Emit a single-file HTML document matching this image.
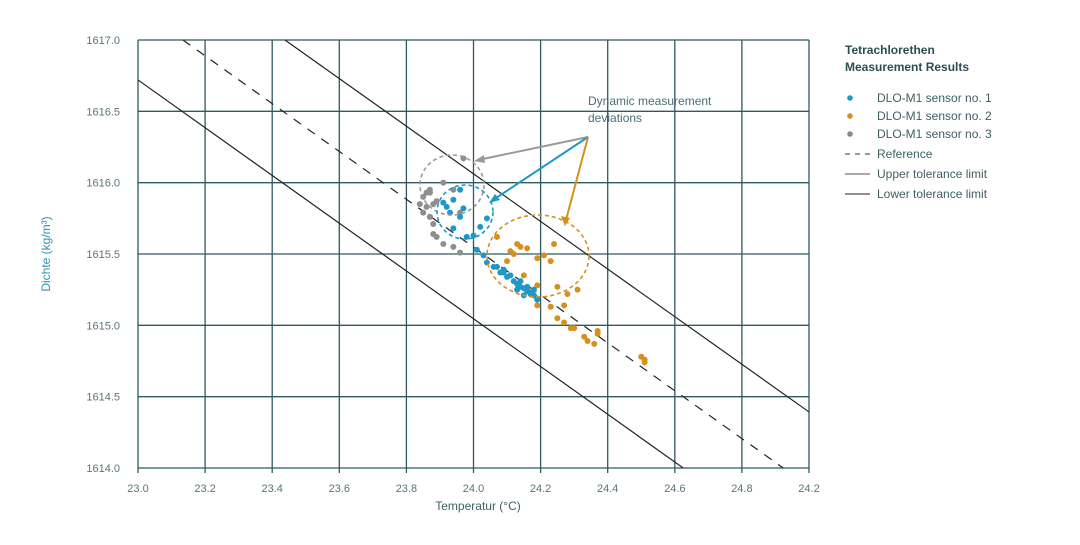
<!DOCTYPE html>
<html><head><meta charset="utf-8"><style>
body{margin:0;background:#fff;width:1080px;height:540px;overflow:hidden;font-family:"Liberation Sans",sans-serif}
</style></head><body>
<svg id="chart" width="1080" height="540" viewBox="0 0 1080 540" xmlns="http://www.w3.org/2000/svg" font-family="Liberation Sans, sans-serif">
<g id="grid"></g>
<g id="lines"></g>
<g id="pts"></g>
<g id="ann">
<ellipse cx="452" cy="185" rx="32" ry="30" fill="none" stroke="#999" stroke-width="1.6" stroke-dasharray="4,3"/>
<ellipse cx="465" cy="212" rx="28" ry="27" fill="none" stroke="#1f97c7" stroke-width="1.6" stroke-dasharray="4,3"/>
<ellipse cx="538" cy="256" rx="51" ry="41" fill="none" stroke="#d4911e" stroke-width="1.6" stroke-dasharray="4,3"/>
<text x="588" y="105" font-size="12" fill="#4a6e74">Dynamic measurement</text>
<text x="588" y="122" font-size="12" fill="#4a6e74">deviations</text>
<line x1="588" y1="137" x2="478" y2="160" stroke="#999" stroke-width="2"/>
<polygon points="474,161 484,155 485,163" fill="#999"/>
<line x1="588" y1="137" x2="493" y2="200" stroke="#1f97c7" stroke-width="2"/>
<polygon points="489,203 495,194 500,200" fill="#1f97c7"/>
<line x1="588" y1="137" x2="566" y2="220" stroke="#d4911e" stroke-width="2"/>
<polygon points="565,226 561,216 570,218" fill="#d4911e"/>
</g>
<g font-size="12" fill="#3f5f63">
<text x="845" y="54" font-weight="bold" fill="#2b4e54">Tetrachlorethen</text>
<text x="845" y="71" font-weight="bold" fill="#2b4e54">Measurement Results</text>
<circle cx="850" cy="98" r="2.8" fill="#1f97c7"/>
<text x="877" y="102">DLO-M1 sensor no. 1</text>
<circle cx="850" cy="116" r="2.8" fill="#d4911e"/>
<text x="877" y="120">DLO-M1 sensor no. 2</text>
<circle cx="850" cy="134" r="2.8" fill="#8a8a8a"/>
<text x="877" y="138">DLO-M1 sensor no. 3</text>
<line x1="845" y1="154" x2="870" y2="154" stroke="#333" stroke-dasharray="5,5"/>
<text x="877" y="158">Reference</text>
<line x1="845" y1="174" x2="870" y2="174" stroke="#555"/>
<text x="877" y="178">Upper tolerance limit</text>
<line x1="845" y1="194" x2="870" y2="194" stroke="#222"/>
<text x="877" y="198">Lower tolerance limit</text>
</g>
<text x="478" y="510" font-size="12" text-anchor="middle" fill="#3f5f63">Temperatur (°C)</text>
<text transform="translate(50,254) rotate(-90)" font-size="12" text-anchor="middle" fill="#2a93b5">Dichte (kg/m³)</text>
</svg>
<script>
const xTicks=[23.0,23.2,23.4,23.6,23.8,24.0,24.2,24.4,24.6,24.8,25.0];
const xTickLabels=["23.0","23.2","23.4","23.6","23.8","24.0","24.2","24.4","24.6","24.8","24.2"];
const yTicks=[1614.0,1614.5,1615.0,1615.5,1616.0,1616.5,1617.0];
const refLine=[[23.134,1617.0],[24.923,1614.0]];
const upperLine=[[23.438,1617.0],[25.0,1614.393]];
const lowerLine=[[23.0,1616.72],[24.625,1614.0]];
const s1x=[23.91,23.94,23.96,23.97,23.96,23.93,23.92,24.04,24.02,23.94,23.98,24.00,24.01,24.03,24.04,24.06,24.07,24.09,24.10,24.12,24.13,24.14,24.15,24.16,24.17,24.18,24.19,24.11,24.14,24.16,24.17,24.09,24.08,24.13,24.15,24.18];
const s1y=[1615.86,1615.88,1615.95,1615.82,1615.76,1615.79,1615.83,1615.75,1615.69,1615.68,1615.62,1615.63,1615.53,1615.49,1615.44,1615.41,1615.41,1615.37,1615.34,1615.31,1615.29,1615.27,1615.26,1615.24,1615.23,1615.21,1615.18,1615.35,1615.31,1615.27,1615.22,1615.39,1615.37,1615.25,1615.21,1615.25];
const s2x=[24.07,24.11,24.13,24.14,24.12,24.10,24.16,24.19,24.21,24.23,24.24,24.15,24.19,24.25,24.31,24.28,24.16,24.19,24.19,24.27,24.23,24.25,24.27,24.29,24.30,24.33,24.34,24.36,24.37,24.37,24.50,24.51,24.51];
const s2y=[1615.62,1615.52,1615.57,1615.55,1615.50,1615.45,1615.54,1615.47,1615.49,1615.45,1615.57,1615.35,1615.28,1615.27,1615.25,1615.22,1615.26,1615.19,1615.14,1615.14,1615.13,1615.05,1615.02,1614.98,1614.98,1614.92,1614.89,1614.87,1614.96,1614.94,1614.78,1614.74,1614.76];
const s3x=[23.97,23.91,23.94,23.87,23.85,23.84,23.86,23.88,23.85,23.87,23.88,23.88,23.89,23.91,23.94,23.96,23.87,23.86,23.89,23.87,23.96];
const s3y=[1616.17,1616.00,1615.95,1615.93,1615.90,1615.85,1615.83,1615.85,1615.79,1615.76,1615.71,1615.64,1615.62,1615.57,1615.55,1615.51,1615.95,1615.93,1615.87,1615.76,1615.79];
const X0=138,X1=809,Y0=468,Y1=40;
function sx(v){return X0+(v-23.0)/2.0*(X1-X0);}
function sy(v){return Y0-(v-1614.0)/3.0*(Y0-Y1);}
const NS="http://www.w3.org/2000/svg";
function mk(tag,attrs,parent){const e=document.createElementNS(NS,tag);for(const k in attrs)e.setAttribute(k,attrs[k]);parent.appendChild(e);return e;}
const grid=document.getElementById('grid');
xTicks.forEach((t,i)=>{
 const l=mk('line',{x1:sx(t),x2:sx(t),y1:Y1,y2:Y0+5,stroke:'#2f5a60','stroke-width':1.3},grid);
 
 
 const tx=mk('text',{x:sx(t),y:Y0+24,'font-size':11,'text-anchor':'middle',fill:'#5b7479'},grid);
 tx.textContent=xTickLabels[i];
 
 
});
yTicks.forEach(t=>{
 const l=mk('line',{x1:X0,x2:X1,y1:sy(t),y2:sy(t),stroke:'#2f5a60','stroke-width':1.3},grid);
 
 
 const tx=mk('text',{x:120,y:sy(t)+4,'font-size':11,'text-anchor':'end',fill:'#5b7479'},grid);
 tx.textContent=t.toFixed(1);
 
 
});
const lines=document.getElementById('lines');
function drawLine(d,name,dash){
 const l=mk('line',{x1:sx(d[0][0]),y1:sy(d[0][1]),x2:sx(d[1][0]),y2:sy(d[1][1]),stroke:'#222','stroke-width':1.2},lines);
 if(dash)l.setAttribute('stroke-dasharray','9,8');
 
 
}
drawLine(refLine,'reference-line',true);
drawLine(upperLine,'upper-tolerance-line',false);
drawLine(lowerLine,'lower-tolerance-line',false);
const pts=document.getElementById('pts');
function drawPts(xs,ys,color,name){
 xs.forEach((x,i)=>{
  const c=mk('circle',{cx:sx(x),cy:sy(ys[i]),r:3,fill:color},pts);
  
  
 });
}
drawPts(s3x,s3y,'#8e8e8e','point-sensor-3');
drawPts(s2x,s2y,'#d4911e','point-sensor-2');
drawPts(s1x,s1y,'#1f97c7','point-sensor-1');
</script>
</body></html>
